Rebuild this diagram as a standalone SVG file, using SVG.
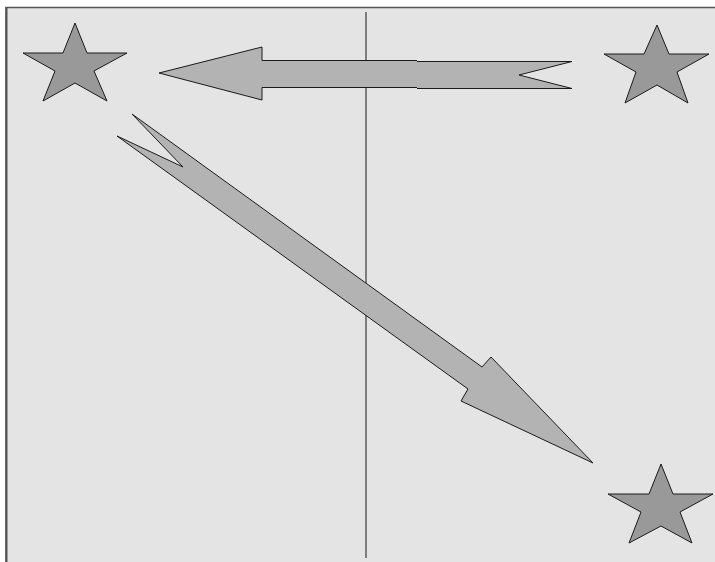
<svg xmlns="http://www.w3.org/2000/svg" width="715" height="562" viewBox="0 0 715 562">
<style>
.star{fill:#999999;stroke:#1a1a1a;stroke-width:1}
.arrow{fill:#b3b3b3;stroke:#1a1a1a;stroke-width:1;stroke-linejoin:miter}
.fillonly{fill:#b3b3b3;stroke:none}
.edge{fill:none;stroke:#1a1a1a;stroke-width:1}
</style>
<rect x="0" y="0" width="715" height="562" fill="#ffffff"/>
<rect x="6" y="7.5" width="720" height="570" fill="#e4e4e4" stroke="#555555" stroke-width="1.5"/>
<line x1="6.5" y1="7" x2="6.5" y2="562" stroke="#555555" stroke-width="2"/>
<line x1="366" y1="12" x2="366" y2="558" stroke="#3a3a3a" stroke-width="1.2"/>
<g id="star1"><polygon class="star" points="75,23 87,53 127,53 94,71 107,101 75,83 43,101 55,71 23,53 63,53"/></g>
<g id="star2"><polygon class="star" points="657,25 669,54 709,54 677,72 688,103 657,85 625,103 636,72 604,54 644,54"/></g>
<g id="star3"><polygon class="star" points="661,464 673,494 713,494 680,512 692,543 661,526 629,543 641,512 608,494 649,494"/></g>
<g id="connectors">
<polygon class="fillonly" points="159,73 262,47 262,60.5 417,60.5 417,61.5 572,61.5 519,75 572,88.5 417,88.5 417,87.5 262,87.5 262,100"/>
<path class="edge" d="M262,60.5 H417 M417,61.5 H572 L519,75 L572,88.5 H417 M417,87.5 H262 V100 L159,73 L262,47 V60.5"/>
<polygon class="arrow" points="132,114 183,167 117,136 468,389 461,401 593,463 491,357 482,367"/>
</g>
</svg>
